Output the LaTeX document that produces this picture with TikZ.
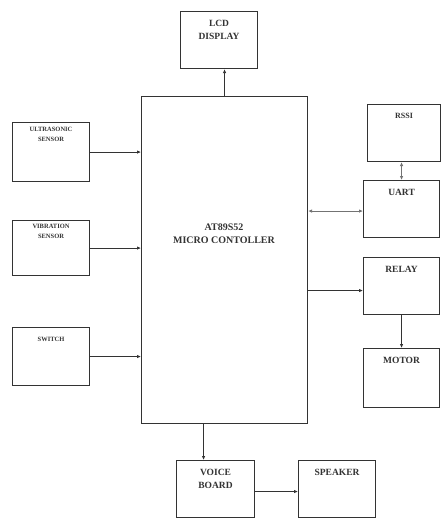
\documentclass[tikz,border=0pt]{standalone}
\usepackage{fontspec}
\setmainfont{Liberation Serif}
\usetikzlibrary{arrows.meta}
\begin{document}
\begin{tikzpicture}[x=1pt,y=-1pt,
  blk/.style={draw=black!80, line width=1.1pt, inner sep=0pt, anchor=north west, rectangle},
  lbl/.style={anchor=north, align=center, inner sep=0pt, font=\fontsize{9.5}{13}\selectfont\bfseries, text=black!80},
  slbl/.style={anchor=north, align=center, inner sep=0pt, font=\fontsize{6.5}{10}\selectfont\bfseries, text=black!80},
  conn/.style={draw=black!80, line width=1pt, -{Latex[length=4pt,width=3.5pt]}},
  bconn/.style={draw=black!55, line width=1pt, {Latex[length=4pt,width=3.5pt]}-{Latex[length=4pt,width=3.5pt]}}
]
\useasboundingbox (0,0) rectangle (442,519);
\fill[white] (0,0) rectangle (442,519);

\node[blk, minimum width=77pt, minimum height=57pt] (lcd) at (180,11) {};
\node[lbl] (lcdt) at ([yshift=-9pt]lcd.north) {LCD\\DISPLAY};

\node[blk, minimum width=166pt, minimum height=327pt] (main) at (141,96) {};
\node[lbl, font=\fontsize{10}{13}\selectfont\bfseries] (maint) at (224,224) {AT89S52\\MICRO CONTOLLER};

\node[blk, minimum width=77pt, minimum height=59pt] (ultra) at (12,122) {};
\node[slbl] (ultrat) at ([yshift=-5pt]ultra.north) {ULTRASONIC\\SENSOR};

\node[blk, minimum width=77pt, minimum height=55pt] (vib) at (12,220) {};
\node[slbl] (vibt) at ([yshift=-4pt]vib.north) {VIBRATION\\SENSOR};

\node[blk, minimum width=77pt, minimum height=58pt] (sw) at (12,327) {};
\node[slbl] (swt) at ([yshift=-10pt]sw.north) {SWITCH};

\node[blk, minimum width=73pt, minimum height=57pt] (rssi) at (367,104) {};
\node[lbl, font=\fontsize{8}{10}\selectfont\bfseries] (rssit) at ([yshift=-9pt]rssi.north) {RSSI};

\node[blk, minimum width=76pt, minimum height=57pt] (uart) at (363,180) {};
\node[lbl] (uartt) at ([yshift=-9pt]uart.north) {UART};

\node[blk, minimum width=76pt, minimum height=57pt] (relay) at (363,257) {};
\node[lbl] (relayt) at ([yshift=-9pt]relay.north) {RELAY};

\node[blk, minimum width=76pt, minimum height=59pt] (motor) at (363,348) {};
\node[lbl] (motort) at ([yshift=-9pt]motor.north) {MOTOR};

\node[blk, minimum width=78pt, minimum height=57pt] (voice) at (176,460) {};
\node[lbl] (voicet) at ([yshift=-9pt]voice.north) {VOICE\\BOARD};

\node[blk, minimum width=77pt, minimum height=57pt] (spk) at (298,460) {};
\node[lbl] (spkt) at ([yshift=-9pt]spk.north) {SPEAKER};

\draw[conn] (main.north) -- (main.north |- lcd.south);
\draw[conn] (ultra.east) -- (ultra.east -| main.west);
\draw[conn] (vib.east) -- (vib.east -| main.west);
\draw[conn] (sw.east) -- (sw.east -| main.west);
\draw[bconn] ([yshift=-2pt]uart.west -| main.east) -- ([yshift=-2pt]uart.west);
\draw[bconn] (uart.north) -- (uart.north |- rssi.south);
\draw[conn] ([yshift=-4.5pt]relay.west -| main.east) -- ([yshift=-4.5pt]relay.west);
\draw[conn] (relay.south) -- (relay.south |- motor.north);
\draw[conn] ([xshift=-12pt]voice.north |- main.south) -- ([xshift=-12pt]voice.north);
\draw[conn] ([yshift=-2.5pt]voice.east) -- ([yshift=-2.5pt]voice.east -| spk.west);
\end{tikzpicture}
\end{document}
